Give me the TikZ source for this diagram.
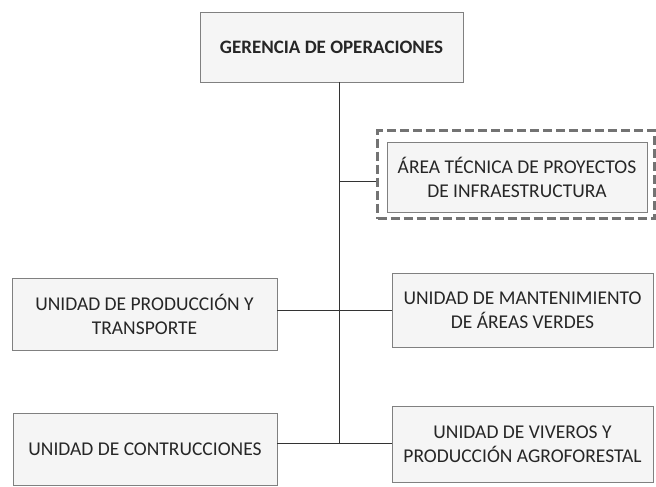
\documentclass[tikz,border=0pt]{standalone}
\usepackage{fontspec}
\setmainfont{Carlito}
\begin{document}
\begin{tikzpicture}[x=1pt,y=-1pt,
  unitbox/.style={draw=black!50, fill=black!4, line width=0.8pt, align=center, inner sep=0pt, font=\fontsize{19.5}{24}\selectfont, text=black!85},
  dashbox/.style={draw=black!55, line width=2.6pt, dash pattern=on 9pt off 4pt, inner sep=0pt},
  link/.style={draw=black!80, line width=1pt}]
\useasboundingbox (0,0) rectangle (656,487);
\node[unitbox, minimum width=263pt, minimum height=70pt, font=\bfseries\fontsize{19}{24}\selectfont] (top) at (331.5,47) {GERENCIA DE OPERACIONES};
\node[dashbox, minimum width=277pt, minimum height=88pt] (dash) at (516,174.5) {};
\node[unitbox, minimum width=260pt, minimum height=70pt] (tec) at (517,177) {ÁREA TÉCNICA DE PROYECTOS\\DE INFRAESTRUCTURA};
\node[unitbox, minimum width=261pt, minimum height=74pt] (mant) at (522.5,310) {UNIDAD DE MANTENIMIENTO\\DE ÁREAS VERDES};
\node[unitbox, minimum width=265pt, minimum height=72pt] (prod) at (144.5,314) {UNIDAD DE PRODUCCIÓN Y\\TRANSPORTE};
\node[unitbox, minimum width=264pt, minimum height=72pt] (cons) at (145,449) {UNIDAD DE CONTRUCCIONES};
\node[unitbox, minimum width=261pt, minimum height=76pt] (viv) at (522.5,444) {UNIDAD DE VIVEROS Y\\PRODUCCIÓN AGROFORESTAL};
\coordinate (t0) at (339,82);
\coordinate (t1) at (339,181);
\coordinate (t2) at (339,310);
\coordinate (t3) at (339,443);
\draw[link] (t0) -- (t3);
\draw[link] (t1) -- (t1 -| dash.west);
\draw[link] (t2 -| prod.east) -- (t2 -| mant.west);
\draw[link] (t3 -| cons.east) -- (t3 -| viv.west);
\end{tikzpicture}
\end{document}
